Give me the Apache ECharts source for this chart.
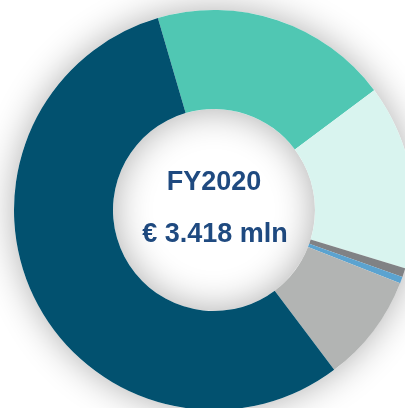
<!DOCTYPE html>
<html>
<head>
<meta charset="utf-8">
<script src="https://cdn.jsdelivr.net/npm/echarts@6/dist/echarts.min.js"></script>
<style>
  html, body { margin: 0; padding: 0; background: #fff; }
  #chart { width: 405px; height: 408px; }
</style>
</head>
<body>
<div id="chart"></div>
<script>
// FY2020 breakdown, € mln
const categories = ['Segment A', 'Segment B', 'Segment C', 'Segment D', 'Segment E', 'Segment F']
const values = [660, 510, 25, 18, 300, 1905]
const colors = ['#50c7b3', '#d9f4ef', '#808285', '#5ba3d0', '#b2b4b3', '#02516f']
const titleText = 'FY2020'
const totalText = '€ 3.418 mln'

const chart = echarts.init(document.getElementById('chart'))

const center = [214, 210]
const radius = [101, 200]
const textFont = 'bold 27px "Liberation Sans", sans-serif'

chart.setOption({
  animation: false,
  series: [
    {
      // soft halo behind the ring
      type: 'pie',
      silent: true,
      center,
      radius,
      z: 1,
      label: { show: false },
      labelLine: { show: false },
      itemStyle: { color: '#fff', shadowBlur: 36, shadowColor: 'rgba(0,0,0,0.32)' },
      data: [{ value: 1, name: 'bg' }]
    },
    {
      type: 'pie',
      center,
      radius,
      z: 2,
      startAngle: 106.3,
      clockwise: true,
      avoidLabelOverlap: false,
      label: { show: false },
      labelLine: { show: false },
      itemStyle: { borderWidth: 0 },
      data: categories.map((name, i) => ({
        name,
        value: values[i],
        itemStyle: { color: colors[i] }
      }))
    }
  ],
  graphic: [
    {
      type: 'text',
      x: center[0],
      y: 183,
      style: {
        text: titleText,
        align: 'center',
        verticalAlign: 'middle',
        font: textFont,
        fill: '#1f4a80'
      }
    },
    {
      type: 'text',
      x: center[0] + 1,
      y: 235,
      style: {
        text: totalText,
        align: 'center',
        verticalAlign: 'middle',
        font: textFont,
        fill: '#1f4a80'
      }
    }
  ]
})
</script>
</body>
</html>
